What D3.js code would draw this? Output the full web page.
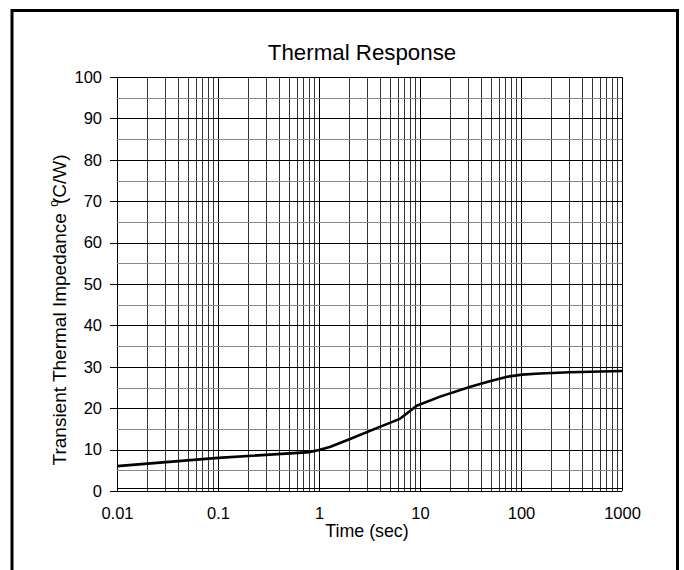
<!DOCTYPE html>
<html>
<head>
<meta charset="utf-8">
<script src="https://cdn.jsdelivr.net/npm/d3@7"></script>
<style>
  body { margin: 0; background: #fff; }
  text { font-family: "Liberation Sans", Arial, sans-serif; fill: #000; }
</style>
</head>
<body>
<svg id="chart" width="684" height="570"></svg>
<script>
// values
var time = [0.01, 0.1, 0.8, 1, 1.3, 2, 4, 6.3, 9.3, 15.8, 31, 49, 73, 102, 154, 305, 1000]
var impedance = [6.0, 8.0, 9.4, 9.9, 10.7, 12.5, 15.5, 17.4, 20.6, 22.8, 25.1, 26.5, 27.6, 28.1, 28.4, 28.7, 29.0]
var xTicks = [0.01, 0.1, 1, 10, 100, 1000]
var yTicks = [0, 10, 20, 30, 40, 50, 60, 70, 80, 90, 100]
var yHalf = [5, 15, 25, 35, 45, 55, 65, 75, 85, 95]

var svg = d3.select("#chart"),
    margin = { top: 77, left: 117, bottom: 79, right: 62 },
    width = 684,
    height = 570;

// outer frame
svg.append("rect")
    .attr("x", 12).attr("y", 10.5)
    .attr("width", 665.5).attr("height", 570)
    .attr("fill", "none")
    .attr("stroke", "#000")
    .attr("stroke-width", 3)

var x = d3.scaleLog()
    .domain([0.01, 1000])
    .range([margin.left, width - margin.right])

var y = d3.scaleLinear()
    .domain([0, 100])
    .range([height - margin.bottom, margin.top])

// minor vertical grid (2..9 in each decade)
var minor = []
for (var p = -2; p < 3; p++) {
    for (var m = 2; m < 10; m++) minor.push(m * Math.pow(10, p))
}

var grid = svg.append("g").attr("shape-rendering", "crispEdges")

grid.selectAll(".vminor")
    .data(minor)
    .enter().append("line")
    .attr("x1", d => Math.round(x(d)) + 0.5).attr("x2", d => Math.round(x(d)) + 0.5)
    .attr("y1", y(100)).attr("y2", y(0))
    .attr("stroke", "#333")

grid.selectAll(".vmajor")
    .data(xTicks)
    .enter().append("line")
    .attr("x1", d => Math.round(x(d)) + 0.5).attr("x2", d => Math.round(x(d)) + 0.5)
    .attr("y1", y(100)).attr("y2", y(0))
    .attr("stroke", "#000")

grid.selectAll(".hhalf")
    .data(yHalf)
    .enter().append("line")
    .attr("x1", x(0.01)).attr("x2", x(1000))
    .attr("y1", d => Math.round(y(d)) + 0.5).attr("y2", d => Math.round(y(d)) + 0.5)
    .attr("stroke", "#888")

grid.selectAll(".hmajor")
    .data(yTicks)
    .enter().append("line")
    .attr("x1", x(0.01)).attr("x2", x(1000))
    .attr("y1", d => Math.round(y(d)) + 0.5).attr("y2", d => Math.round(y(d)) + 0.5)
    .attr("stroke", "#000")

// second line just above the zero line
grid.append("line")
    .attr("x1", x(0.01)).attr("x2", x(1000))
    .attr("y1", Math.round(y(0)) - 2.5).attr("y2", Math.round(y(0)) - 2.5)
    .attr("stroke", "#000")

// axes
var xAxis = svg.append("g")
    .attr("transform", `translate(0,${y(0)})`)
    .call(d3.axisBottom(x).tickValues(xTicks).tickSize(0).tickPadding(16)
        .tickFormat(d => String(d)))
xAxis.select(".domain").remove()
xAxis.selectAll("text").attr("font-size", 16.5)

var yAxis = svg.append("g")
    .attr("transform", `translate(${x(0.01)},0)`)
    .call(d3.axisLeft(y).tickValues(yTicks).tickSize(7).tickPadding(8))
yAxis.select(".domain").remove()
yAxis.selectAll("line").attr("stroke", "#000").attr("shape-rendering", "crispEdges")
yAxis.selectAll("text").attr("font-size", 16.5)

// curve
var line = d3.line()
    .x((d, i) => x(time[i]))
    .y(d => y(d))

svg.append("path")
    .datum(impedance)
    .attr("fill", "none")
    .attr("stroke", "#000")
    .attr("stroke-width", 2.6)
    .attr("d", line)

// titles
svg.append("text")
    .attr("x", 362).attr("y", 60)
    .attr("text-anchor", "middle")
    .attr("font-size", 22.3)
    .text("Thermal Response")

svg.append("text")
    .attr("x", 367).attr("y", 537)
    .attr("text-anchor", "middle")
    .attr("font-size", 17.8)
    .text("Time (sec)")

var yt = svg.append("text")
    .attr("transform", "translate(66,310) rotate(-90)")
    .attr("text-anchor", "middle")
    .attr("font-size", 19)
yt.append("tspan").text("Transient Thermal Impedance ")
yt.append("tspan").attr("font-size", 12).attr("dy", -8).attr("dx", 1).text("o")
yt.append("tspan").attr("dy", 8).attr("dx", -4).text("(C/W)")
</script>
</body>
</html>
